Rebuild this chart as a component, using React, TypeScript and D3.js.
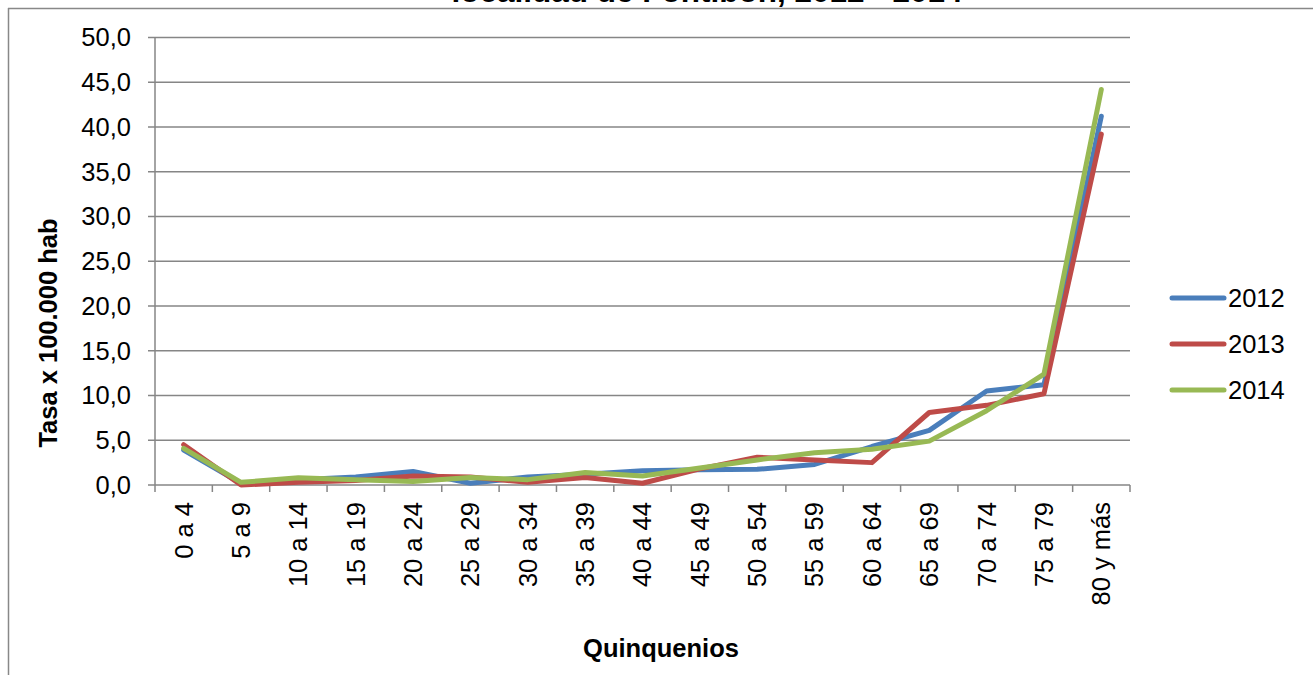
import React from "react";
import * as d3 from "d3";

const categories = ["0 a 4","5 a 9","10 a 14","15 a 19","20 a 24","25 a 29","30 a 34","35 a 39","40 a 44","45 a 49","50 a 54","55 a 59","60 a 64","65 a 69","70 a 74","75 a 79","80 y más"];
const years = ["2012","2013","2014"];
const values2012 = [3.9,0.2,0.6,0.9,1.5,0.2,0.9,1.2,1.6,1.7,1.75,2.3,4.3,6.1,10.5,11.2,41.2];
const values2013 = [4.5,0.0,0.3,0.5,1.0,0.9,0.3,0.85,0.2,1.8,3.1,2.8,2.5,8.1,8.9,10.2,39.2];
const values2014 = [4.1,0.3,0.8,0.6,0.4,0.85,0.6,1.4,1.0,1.9,2.8,3.6,4.0,4.9,8.3,12.4,44.2];
const seriesValues = [values2012, values2013, values2014];
const colors = ["#4A7EBB","#BE4B48","#98B954"];
const yTicks = [0,5,10,15,20,25,30,35,40,45,50];

const W = 1313, H = 675;
const left = 155, right = 1130, top = 37.5, bottom = 485;
const font = "'Liberation Sans', Arial, sans-serif";
const fs = 25.5;

export default function App() {
  const x = d3.scaleBand().domain(categories).range([left, right]).padding(0);
  const y = d3.scaleLinear().domain([0, 50]).range([bottom, top]);
  const line = d3.line<number>()
    .x((_, i) => (x(categories[i]) as number) + x.bandwidth() / 2)
    .y(d => y(d));
  const fmt = (v: number) => v.toFixed(1).replace(".", ",");
  const boundaries = categories.map(c => x(c) as number).concat([right]);

  return (
    <svg width={W} height={H} style={{ position: "absolute", left: 0, top: 0 }} fontFamily={font}>
      <rect x={0} y={0} width={W} height={H} fill="#fff" />
      <text x={707} y={2} textAnchor="middle" fontWeight="bold" fontSize={31} textLength={511} lengthAdjust="spacingAndGlyphs">localidad de Fontibón, 2012 - 2014</text>
      <line x1={8} x2={W} y1={8.5} y2={8.5} stroke="#888" strokeWidth={1.5} />
      <line x1={8.5} x2={8.5} y1={8} y2={H} stroke="#888" strokeWidth={1.5} />
      {yTicks.map(t => (
        <g key={t}>
          <line x1={148} x2={right} y1={y(t)} y2={y(t)} stroke="#868686" strokeWidth={1.5} />
          <text x={131} y={y(t)} dy="0.35em" textAnchor="end" fontSize={fs} fill="#000">{fmt(t)}</text>
        </g>
      ))}
      <line x1={left} x2={left} y1={top} y2={bottom} stroke="#868686" strokeWidth={1.5} />
      {boundaries.map((b, i) => (
        <line key={i} x1={b} x2={b} y1={bottom} y2={bottom + 7} stroke="#868686" strokeWidth={1.5} />
      ))}
      {categories.map(c => {
        const cx = (x(c) as number) + x.bandwidth() / 2;
        return (
          <text key={c} transform={`translate(${cx},502) rotate(-90)`} dy="0.35em" textAnchor="end" fontSize={fs} fill="#000">{c}</text>
        );
      })}
      {seriesValues.map((vals, i) => (
        <path key={i} d={line(vals) as string} fill="none" stroke={colors[i]} strokeWidth={5} strokeLinejoin="round" strokeLinecap="round" />
      ))}
      <text x={661} y={657} textAnchor="middle" fontWeight="bold" fontSize={fs}>Quinquenios</text>
      <text transform="translate(57,333) rotate(-90)" textAnchor="middle" fontWeight="bold" fontSize={fs}>Tasa x 100.000 hab</text>
      {years.map((yr, i) => {
        const ly = 298 + i * 46;
        return (
          <g key={yr}>
            <line x1={1172} x2={1224} y1={ly} y2={ly} stroke={colors[i]} strokeWidth={5} strokeLinecap="round" />
            <text x={1228} y={ly} dy="0.35em" fontSize={fs}>{yr}</text>
          </g>
        );
      })}
    </svg>
  );
}
